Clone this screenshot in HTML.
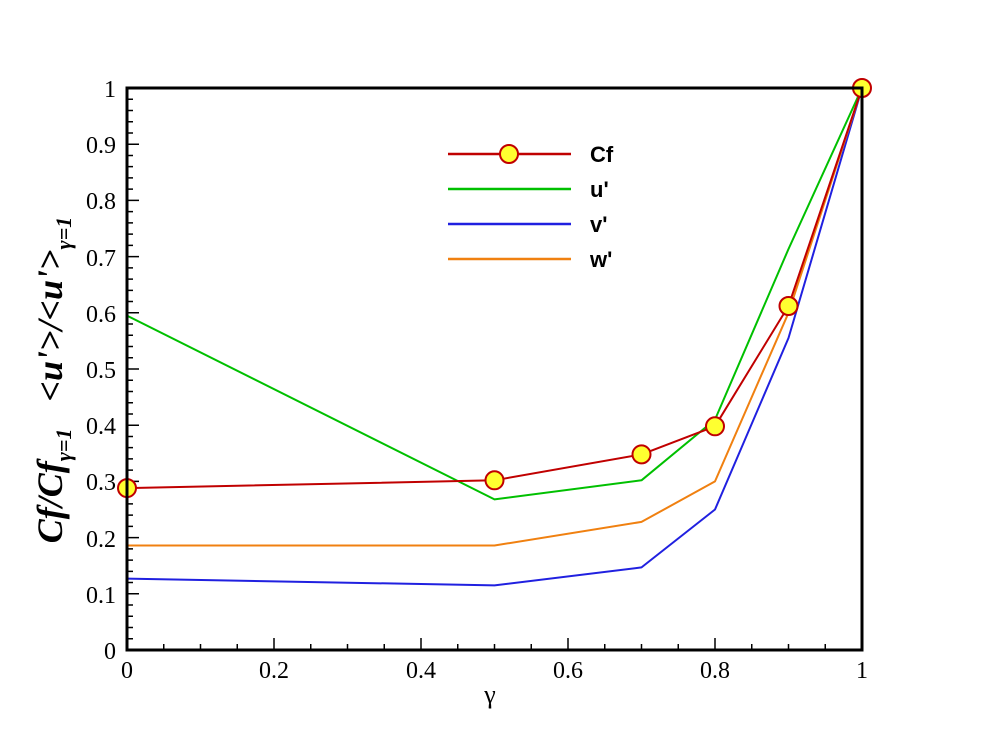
<!DOCTYPE html>
<html><head><style>body{margin:0;background:#fff}svg{display:block}</style></head><body>
<svg width="982" height="731" xmlns="http://www.w3.org/2000/svg" font-family="Liberation Serif, serif">
<rect width="982" height="731" fill="#fff"/>
<path stroke="#000" stroke-width="1.5" fill="none" d="M127 650h12M127 593.8h12M127 537.6h12M127 481.4h12M127 425.2h12M127 369h12M127 312.8h12M127 256.6h12M127 200.4h12M127 144.2h12
M127 638.76h6M127 627.52h6M127 616.28h6M127 605.04h6M127 582.56h6M127 571.32h6M127 560.08h6M127 548.84h6M127 526.36h6M127 515.12h6M127 503.88h6M127 492.64h6M127 470.16h6M127 458.92h6M127 447.68h6M127 436.44h6M127 413.96h6M127 402.72h6M127 391.48h6M127 380.24h6M127 357.76h6M127 346.52h6M127 335.28h6M127 324.04h6M127 301.56h6M127 290.32h6M127 279.08h6M127 267.84h6M127 245.36h6M127 234.12h6M127 222.88h6M127 211.64h6M127 189.16h6M127 177.92h6M127 166.68h6M127 155.44h6M127 132.96h6M127 121.72h6M127 110.48h6M127 99.24h6
M274 650v-12M421 650v-12M568 650v-12M715 650v-12
M163.75 650v-6M200.5 650v-6M237.25 650v-6M310.75 650v-6M347.5 650v-6M384.25 650v-6M457.75 650v-6M494.5 650v-6M531.25 650v-6M604.75 650v-6M641.5 650v-6M678.25 650v-6M751.75 650v-6M788.5 650v-6M825.25 650v-6"/>
<g fill="none" stroke-width="2" stroke-linejoin="round">
<polyline stroke="#00c000" points="127,315.6 494.5,499.4 641.5,480.3 715,419.6 788.5,249 862,88"/>
<polyline stroke="#2020e0" points="127,578.6 494.5,585.4 641.5,567.4 715,509.5 788.5,338 862,88"/>
<polyline stroke="#f08010" points="127,545.5 494.5,545.5 641.5,521.9 715,481.4 788.5,312.8 862,88"/>
<polyline stroke="#c00000" points="127,488.1 494.5,480.3 641.5,454.4 715,426.3 788.5,306 862,88"/>
</g>
<g fill="#ffff30" stroke="#c00000" stroke-width="2">
<circle cx="127" cy="488.1" r="9"/><circle cx="494.5" cy="480.3" r="9"/><circle cx="641.5" cy="454.4" r="9"/><circle cx="715" cy="426.3" r="9"/><circle cx="788.5" cy="306" r="9"/><circle cx="862" cy="88" r="9"/>
</g>
<rect x="127" y="88" width="735" height="562" fill="none" stroke="#000" stroke-width="3"/>
<g stroke-width="2.5">
<line x1="448" y1="154" x2="571" y2="154" stroke="#c00000"/>
<circle cx="509" cy="154" r="9" fill="#ffff30" stroke="#c00000" stroke-width="2"/>
<line x1="448" y1="189" x2="571" y2="189" stroke="#00c000"/>
<line x1="448" y1="224" x2="571" y2="224" stroke="#2020e0"/>
<line x1="448" y1="259" x2="571" y2="259" stroke="#f08010"/>
</g>
<g font-family="Liberation Sans, sans-serif" font-weight="bold" font-size="22" fill="#000">
<text x="590" y="162">Cf</text><text x="590" y="197">u'</text><text x="590" y="232">v'</text><text x="590" y="267">w'</text>
</g>
<g font-size="24" fill="#000" text-anchor="end">
<text x="116" y="659">0</text><text x="116" y="603">0.1</text><text x="116" y="547">0.2</text><text x="116" y="490">0.3</text><text x="116" y="434">0.4</text><text x="116" y="378">0.5</text><text x="116" y="322">0.6</text><text x="116" y="266">0.7</text><text x="116" y="209">0.8</text><text x="116" y="153">0.9</text><text x="116" y="97">1</text>
</g>
<g font-size="24" fill="#000" text-anchor="middle">
<text x="127" y="678">0</text><text x="274" y="678">0.2</text><text x="421" y="678">0.4</text><text x="568" y="678">0.6</text><text x="715" y="678">0.8</text><text x="862" y="678">1</text>
</g>
<text x="490" y="703" font-size="26" text-anchor="middle">γ</text>
<text transform="translate(62,380) rotate(-90)" text-anchor="middle" font-size="36" font-weight="bold" font-style="italic">Cf/Cf<tspan font-size="22" dy="9">γ=1</tspan><tspan dy="-9" xml:space="preserve">   &lt;u'&gt;/&lt;u'&gt;</tspan><tspan font-size="22" dy="9">γ=1</tspan></text>
</svg>
</body></html>
